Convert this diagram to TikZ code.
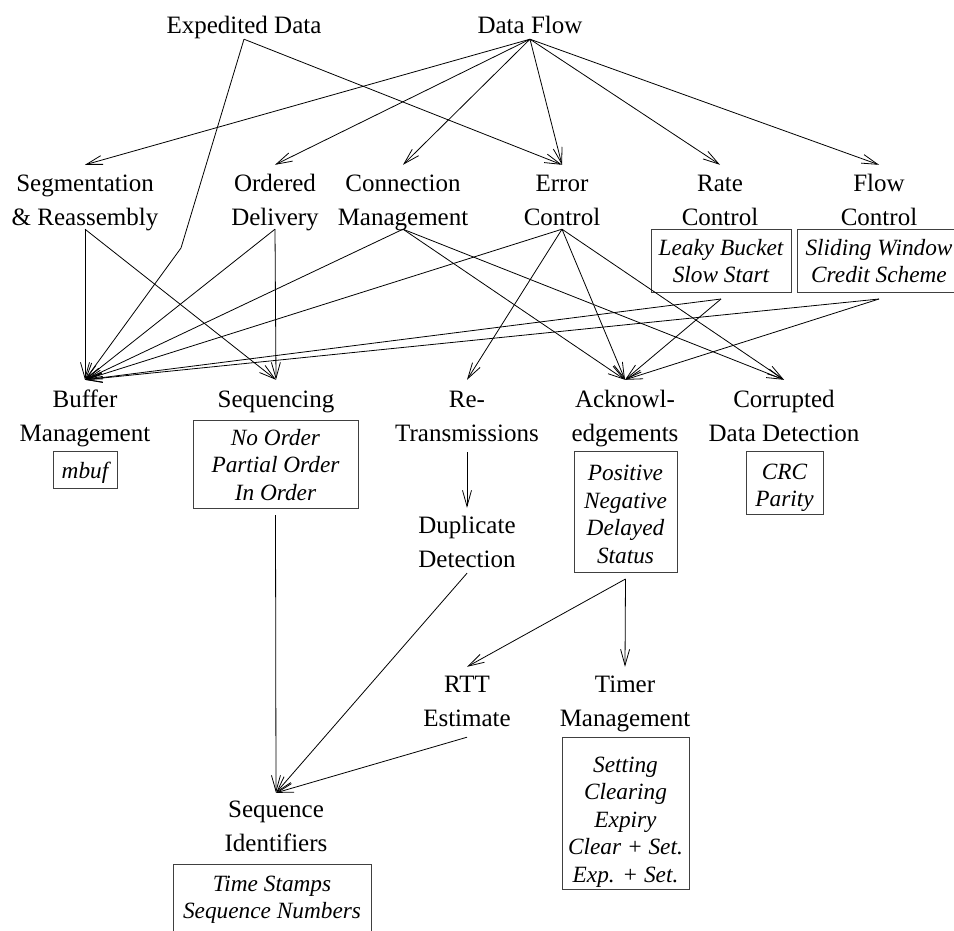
\documentclass[tikz,border=0pt]{standalone}
\usepackage{fontspec}
\setmainfont{Liberation Serif}
\usetikzlibrary{arrows.meta}

\begin{document}
\begin{tikzpicture}[x=1pt,y=-1pt,
  lbl/.style={font=\fontsize{25}{34}\selectfont, align=center, inner sep=0pt, anchor=base},
  itembox/.style={draw=black!75, line width=0.9pt, font=\fontsize{23.3}{27.5}\selectfont\itshape,
    align=center, inner sep=0pt, anchor=base, outer ysep=7pt},
  arr/.style={line width=0.8pt, -{Straight Barb[length=16pt,width=9pt]}},
]
\useasboundingbox (0,0) rectangle (954,930);

% nodes are placed at the baseline of their last line

% top row
\node[lbl, text height=18pt, text depth=6pt] (exp) at (244,33) {Expedited Data};
\node[lbl, text height=18pt, text depth=6pt] (df)  at (530,33) {Data Flow};

% second row
\node[lbl, text height=60pt, text depth=4pt] (seg)  at (85,225)  {Segmentation\\\& Reassembly};
\node[lbl, text height=60pt, text depth=4pt] (ord)  at (275,225) {Ordered\\Delivery};
\node[lbl, text height=60pt, text depth=4pt] (conn) at (403,225) {Connection\\Management};
\node[lbl, text height=60pt, text depth=4pt] (err)  at (562,225) {Error\\Control};
\node[lbl, text height=60pt, text depth=4pt] (rate) at (720,225) {Rate\\Control};
\node[lbl, text height=60pt, text depth=4pt] (flow) at (879,225) {Flow\\Control};
\node[itembox, minimum width=140pt, text height=53.5pt, text depth=9.5pt] (rateBox) at (721,282.5) {Leaky Bucket\\Slow Start};
\node[itembox, minimum width=164pt, text height=53.5pt, text depth=9.5pt] (flowBox) at (879,282.5) {Sliding Window\\Credit Scheme};

% third row
\node[lbl, text height=61pt, text depth=11pt] (buf)  at (85,441)  {Buffer\\Management};
\node[lbl, text height=27pt, text depth=6pt]  (seq)  at (276,407) {Sequencing};
\node[lbl, text height=61pt, text depth=11pt] (retr) at (467,441) {Re-\\Transmissions};
\node[lbl, text height=61pt, text depth=11pt] (ack)  at (625,441) {Acknowl-\\edgements};
\node[lbl, text height=61pt, text depth=11pt] (corr) at (784,441) {Corrupted\\Data Detection};

\node[itembox, minimum width=64pt,  text height=27pt,  text depth=10pt]  (bufBox)  at (85,478)    {mbuf};
\node[itembox, minimum width=165pt, text height=80pt,  text depth=8pt]   (seqBox)  at (275.5,500) {No Order\\Partial Order\\In Order};
\node[itembox, minimum width=103pt, text height=112pt, text depth=9pt]   (ackBox)  at (625.5,563) {Positive\\Negative\\Delayed\\Status};
\node[itembox, minimum width=77pt,  text height=55.5pt, text depth=7.5pt] (corrBox) at (784.5,506.5) {CRC\\Parity};

% lower part
\node[lbl, text height=59pt, text depth=6pt]  (dup)   at (467,567) {Duplicate\\Detection};
\node[lbl, text height=59pt, text depth=11pt] (rtt)   at (467,726) {RTT\\Estimate};
\node[lbl, text height=59pt, text depth=11pt] (timer) at (625,726) {Timer\\Management};
\node[itembox, minimum width=127pt, text height=145pt, text depth=7pt] (timerBox) at (625.5,882)
  {Setting\\Clearing\\Expiry\\Clear + Set.\\Exp. + Set.};
\node[lbl, text height=58pt, text depth=6pt] (sid) at (276,851) {Sequence\\Identifiers};
\node[itembox, minimum width=198pt, text height=54.5pt, text depth=21.5pt] (sidBox) at (272,918.5)
  {Time Stamps\\Sequence Numbers};

\coordinate (expbend) at (181,248);

% connectors
\draw[arr] (exp.south) -- (err.north);
\draw[arr] (exp.south) -- (expbend) -- (buf.north);

\foreach \t in {seg,ord,conn,err,rate,flow}
  \draw[arr] (df.south) -- (\t.north);

\draw[arr] (seg.south) -- (buf.north);
\draw[arr] (seg.south) -- (seq.north);
\draw[arr] (ord.south) -- (buf.north);
\draw[arr] (ord.south) -- (seq.north);

\draw[arr] (conn.south) -- (buf.north);
\draw[arr] (conn.south) -- (ack.north);
\draw[arr] (conn.south) -- (corr.north);

\draw[arr] (err.south) -- (buf.north);
\draw[arr] (err.south) -- (retr.north);
\draw[arr] (err.south) -- (ack.north);
\draw[arr] (err.south) -- (corr.north);

\draw[arr] (rateBox.south) -- (buf.north);
\draw[arr] (rateBox.south) -- (ack.north);
\draw[arr] (flowBox.south) -- (buf.north);
\draw[arr] (flowBox.south) -- (ack.north);

\draw[arr] (retr.south) -- (dup.north);
\draw[arr] (dup.south) -- (sid.north);
\draw[arr] (seqBox.south) -- (sid.north);
\draw[arr] (ackBox.south) -- (rtt.north);
\draw[arr] (ackBox.south) -- (timer.north);
\draw[arr] (rtt.south) -- (sid.north);
\end{tikzpicture}
\end{document}
